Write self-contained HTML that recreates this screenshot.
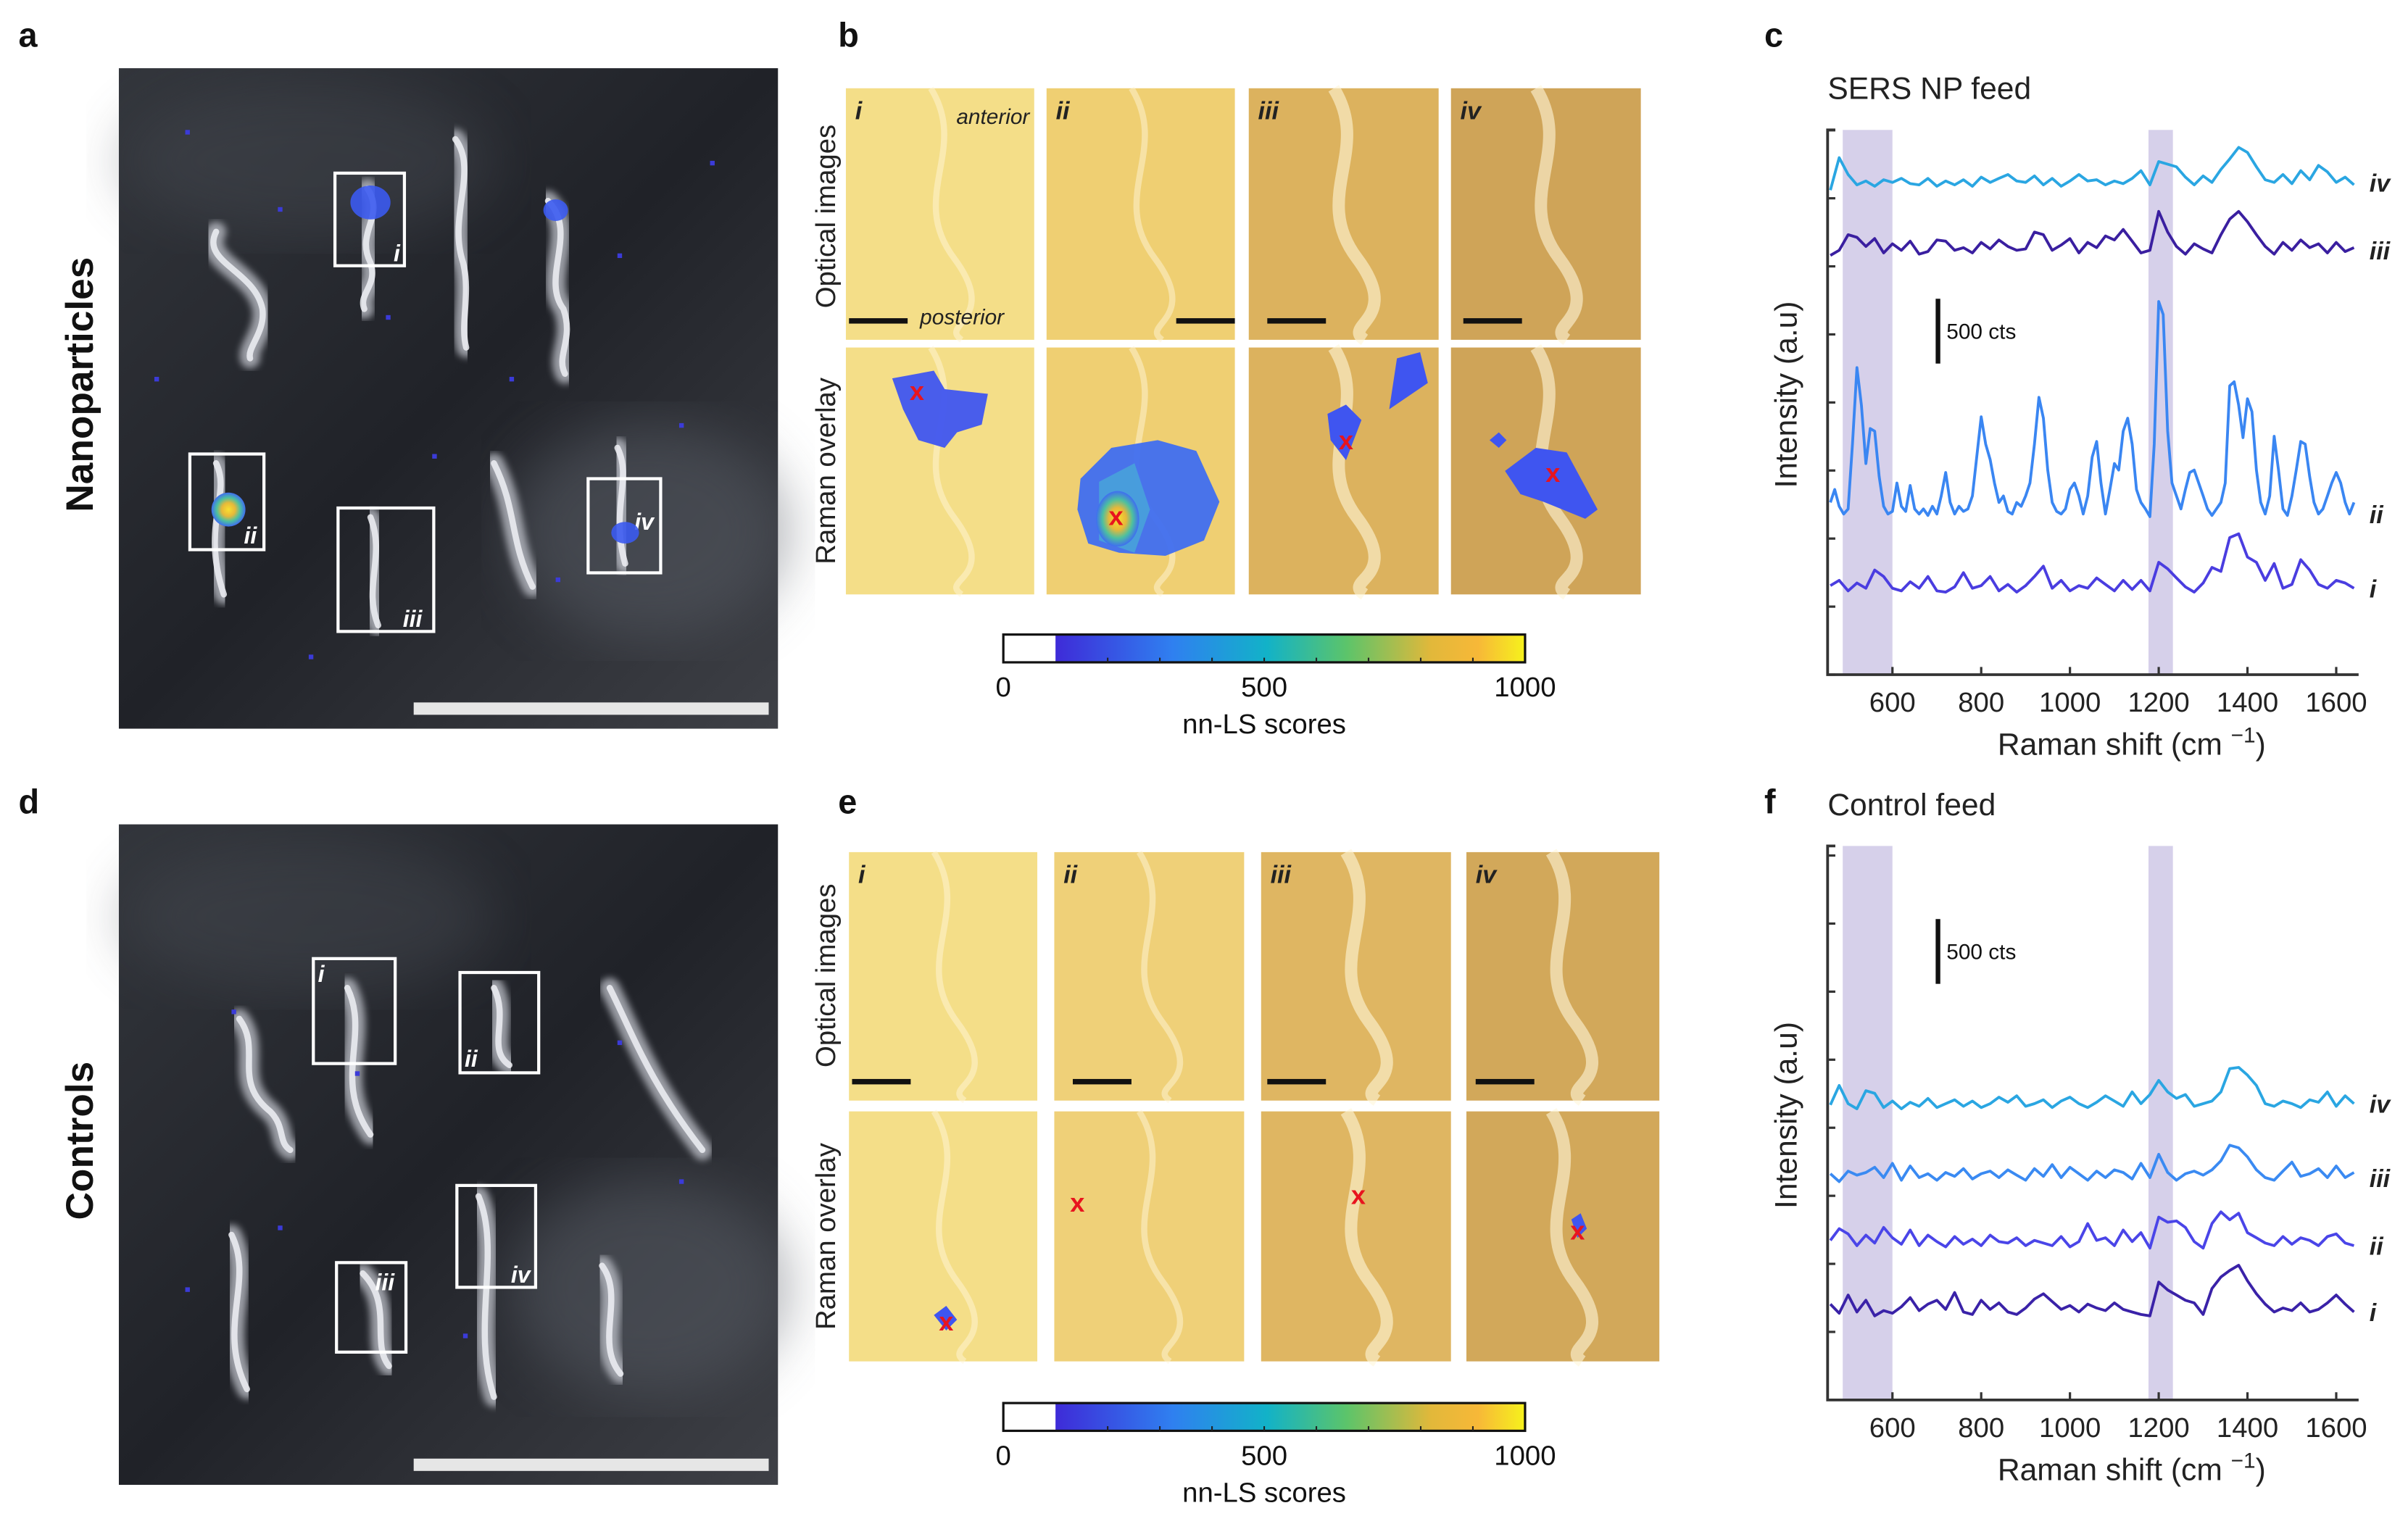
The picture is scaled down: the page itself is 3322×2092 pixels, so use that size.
<!DOCTYPE html>
<html><head><meta charset="utf-8">
<style>
html,body{margin:0;padding:0;background:#fff;}
svg{display:block;font-family:"Liberation Sans",Arial,sans-serif;}
</style></head>
<body>
<svg id="fig" width="3322" height="2092" viewBox="0 0 1560 982" xmlns="http://www.w3.org/2000/svg">
<defs>
<linearGradient id="parula" x1="0" x2="1" y1="0" y2="0">
<stop offset="0" stop-color="#3e2bd8"/><stop offset="0.25" stop-color="#2f80f0"/>
<stop offset="0.45" stop-color="#12b2c8"/><stop offset="0.62" stop-color="#5cc46a"/>
<stop offset="0.8" stop-color="#e2b83a"/><stop offset="0.9" stop-color="#f7b838"/><stop offset="1" stop-color="#f6f21c"/>
</linearGradient>
<radialGradient id="hot" cx="0.5" cy="0.5" r="0.5">
<stop offset="0" stop-color="#f8e030"/><stop offset="0.4" stop-color="#e6b83a"/><stop offset="0.7" stop-color="#4cc0a0"/><stop offset="1" stop-color="#3f6ef0"/>
</radialGradient>
<linearGradient id="dark" x1="0" y1="0" x2="1" y2="1">
<stop offset="0" stop-color="#33363c"/><stop offset="0.5" stop-color="#202228"/><stop offset="1" stop-color="#3e4046"/>
</linearGradient>
<filter id="blur1"><feGaussianBlur stdDeviation="2.2"/></filter>
<filter id="blur6"><feGaussianBlur stdDeviation="18"/></filter>
</defs>
<g id="root"></g>
</svg>
<script>
// ---------- data ----------
const xTickLabels = [600, 800, 1000, 1200, 1400, 1600];
const bandRanges = [[488, 600], [1177, 1232]];
const colorbarTicks = [0, 500, 1000];
const traceLabels = ["iv", "iii", "ii", "i"];
const cOffsets = [3738, 3214, 1179, 607];
const fOffsets = [2226, 1655, 1131, 619];
const wnStart = 460;
const c_iv = [0,250,120,40,70,30,80,60,90,50,
 40,90,30,70,40,80,30,100,60,90,
 120,70,60,110,40,90,30,70,120,70,
 80,40,70,50,90,150,40,220,200,180,
 100,40,110,60,160,240,330,290,180,80,
 60,120,50,150,80,190,140,60,100,40];
const c_iii = [20,60,180,160,90,150,40,110,60,130,
 30,50,140,130,60,80,40,120,70,140,
 90,60,70,200,180,60,100,150,40,120,
 80,170,140,220,130,40,60,360,200,90,
 30,110,70,40,180,300,360,280,180,90,
 30,120,60,140,80,110,40,120,50,80];
const c_ii = [150,250,120,60,100,600,1190,900,450,720,700,350,120,60,80,300,120,80,280,100,60,100,50,120,60,200,380,150,60,120,80,100,200,500,810,600,480,300,150,200,80,60,150,120,200,300,600,960,800,400,150,80,60,100,250,300,200,60,200,500,620,300,60,250,450,400,700,800,600,250,150,100,40,600,1700,1600,700,300,200,100,250,380,400,300,200,100,50,100,150,300,1050,1080,900,650,950,850,400,150,60,200,660,400,100,50,200,400,620,600,350,150,60,100,200,300,380,300,150,60,150];
const c_i = [80,120,40,100,60,200,150,60,40,110,
 60,150,40,30,70,180,60,80,150,40,
 90,30,80,150,230,60,120,40,80,60,
 140,90,40,120,50,120,40,260,210,140,
 70,30,100,220,190,450,480,300,260,120,
 250,60,90,280,200,90,60,120,100,60];
const f_iv = [50,200,60,20,160,140,30,80,20,70,
 40,100,30,60,90,40,80,30,60,110,
 70,120,40,60,90,30,80,110,60,30,
 70,120,80,40,150,60,130,240,150,100,
 130,40,60,80,150,330,340,280,200,60,
 40,80,60,30,90,70,150,40,120,60];
const f_iii = [90,30,110,80,100,140,60,170,40,150,
 60,90,40,100,70,130,50,90,110,60,
 120,80,40,130,70,160,60,140,90,40,
 110,60,120,100,50,170,60,240,100,40,
 90,110,80,120,190,310,290,220,120,60,
 40,110,180,70,90,130,60,150,60,100];
const f_ii = [100,190,150,60,140,80,200,120,70,180,
 60,140,90,50,130,70,110,60,140,90,
 80,120,60,100,80,60,130,50,90,230,
 100,120,60,180,90,160,40,280,240,250,
 200,90,40,230,320,260,310,160,120,80,
 60,130,70,120,100,60,130,150,80,60];
const f_i = [120,50,190,60,150,30,70,50,100,170,
 70,120,150,80,210,60,40,150,80,130,
 60,40,90,160,200,140,80,110,60,120,
 90,70,130,80,60,40,30,290,230,190,
 150,130,40,240,330,380,420,300,200,120,
 60,90,70,130,60,80,130,190,120,60];
const cSeries = [c_iv, c_iii, c_ii, c_i];
const fSeries = [f_iv, f_iii, f_ii, f_i];
const cSteps = [20, 20, 10, 20];
const fSteps = [20, 20, 20, 20];
const traceColorsC = ["#2aa6e2", "#3a1fa0", "#3a86f2", "#4a3de0"];
const traceColorsF = ["#2aa6e2", "#3a8af2", "#4a45e8", "#3a22a8"];

// ---------- helpers ----------
const NS = "http://www.w3.org/2000/svg";
const root = document.getElementById("root");
function mk(tag, attrs, parent, text) {
  const e = document.createElementNS(NS, tag);
  for (const k in attrs) e.setAttribute(k, attrs[k]);
  if (text !== undefined) e.textContent = text;
  (parent || root).appendChild(e);
  return e;
}

[["a",12,30],["b",543,30],["c",1143,30],["d",12,527],["e",543,527],["f",1143,527]].forEach(p=>{
  const t = mk("text",{x:p[1],y:p[2],"font-size":22,"font-weight":"bold",fill:"#111"},root,p[0]);
  
  
});

// ---------- photo panels a / d ----------
function photo(y0, label, boxes, worms, dots, key) {
  const g = mk("g", {});
  
  
  mk("rect",{x:77,y:y0,width:427,height:428,fill:"url(#dark)"},g);
  mk("ellipse",{cx:420,cy:y0+300,rx:90,ry:70,fill:"#5a5e68",opacity:0.5,filter:"url(#blur6)"},g);
  mk("ellipse",{cx:200,cy:y0+60,rx:120,ry:50,fill:"#4a4d55",opacity:0.4,filter:"url(#blur6)"},g);
  worms.forEach(w=>{
    mk("path",{d:w,fill:"none",stroke:"#b9bcc4","stroke-width":13,"stroke-linecap":"round",filter:"url(#blur1)",opacity:0.8},g);
    mk("path",{d:w,fill:"none",stroke:"#eef0f4","stroke-width":4,"stroke-linecap":"round",opacity:0.85},g);
  });
  dots.forEach(d=>mk("rect",{x:d[0],y:y0+d[1],width:3,height:3,fill:"#3b3bd8"},g));
  boxes.forEach(b=>{
    const r = mk("rect",{x:b[0],y:b[1],width:b[2],height:b[3],fill:"none",stroke:"#fff","stroke-width":2},g);
    
    
    mk("text",{x:b[0]+b[5],y:b[1]+b[6],"font-size":15,"font-style":"italic","font-weight":"bold",fill:"#fff"},g,b[4]);
  });
  const sb = mk("rect",{x:268,y:y0+411,width:230,height:8,fill:"#e6e6e6"},g);
  
  
  const t = mk("text",{x:0,y:0,"font-size":25,"font-weight":"bold",fill:"#111","text-anchor":"middle",transform:`translate(60,${y0+205}) rotate(-90)`},root,label);
  
  
}
photo(44,"Nanoparticles",
 [[217,112,45,60,"i",38,57],[123,294,48,62,"ii",35,58],[219,329,62,80,"iii",42,77],[381,310,47,61,"iv",30,33]],
 ["M140,150 C130,170 165,175 170,200 C172,215 160,225 162,232","M238,122 C250,140 230,150 240,170 C245,185 232,190 236,200","M295,90 C310,110 290,140 300,170 C305,190 298,210 302,225","M355,130 C375,150 350,180 365,200 C372,220 360,230 366,242","M140,300 C150,320 130,340 145,385","M240,335 C250,360 235,380 245,405","M320,300 C335,330 330,350 345,380","M400,290 C410,310 395,330 405,365"],
 [[120,40],[180,90],[250,160],[330,200],[400,120],[150,280],[280,250],[440,230],[360,330],[200,380],[460,60],[100,200]],"a");
mk("ellipse",{cx:240,cy:131,rx:13,ry:11,fill:"#3b5af0",opacity:0.9});
mk("ellipse",{cx:360,cy:136,rx:8,ry:7,fill:"#3b5af0",opacity:0.9});
mk("circle",{cx:148,cy:330,r:11,fill:"url(#hot)"});
mk("ellipse",{cx:405,cy:345,rx:9,ry:7,fill:"#3b5af0",opacity:0.9});
photo(534,"Controls",
 [[203,621,53,68,"i",3,15],[298,630,51,65,"ii",3,61],[218,818,45,58,"iii",25,18],[296,768,51,66,"iv",35,63]],
 ["M155,660 C170,680 150,700 175,720 C185,730 180,740 188,745","M225,640 C240,670 215,700 240,735","M395,640 C410,670 420,700 455,745","M150,800 C165,830 140,860 160,900","M235,825 C255,845 240,870 252,885","M310,775 C325,810 305,860 320,905","M390,820 C405,840 385,870 402,890","M320,640 C330,660 315,680 330,690"],
 [[150,120],[230,160],[400,140],[120,300],[300,330],[440,230],[180,260]],"d");

// ---------- tiles b / e ----------
function tiles(cols, rows, colours, key, scaleBars) {
  cols.forEach((c, ci) => {
    rows.forEach((r, ri) => {
      const g = mk("g", {});
      
      
      mk("rect",{x:c[0],y:r[0],width:c[1]-c[0],height:r[1]-r[0],fill:colours[ci]},g);
      mk("path",{d:`M${c[0]+55},${r[0]} C${c[0]+80},${r[0]+40} ${c[0]+40},${r[0]+70} ${c[0]+70},${r[0]+110} S${c[0]+60},${r[1]-10} ${c[0]+75},${r[1]}`,fill:"none",stroke:"#fff6d8","stroke-width":ci<2?4:8,opacity:ci<2?0.5:0.6},g);
      if (ri === 0) {
        mk("text",{x:c[0]+6,y:r[0]+20,"font-size":16,"font-style":"italic","font-weight":"bold",fill:"#222"},g,["i","ii","iii","iv"][ci]);
        const sb = scaleBars[ci];
        mk("rect",{x:c[0]+sb,y:r[1]-14,width:38,height:3.5,fill:"#111"},g);
      }
    });
  });
}
const bCols = [[548,670],[678,800],[809,932],[940,1063]];
const bRows = [[57,220],[225,385]];
tiles(bCols,bRows,["#f4de88","#efcf72","#dcb25e","#cfa458"],"b",[2,84,12,8]);
mk("text",{x:667,y:80,"font-size":14,"font-style":"italic",fill:"#222","text-anchor":"end"},root,"anterior");
mk("text",{x:596,y:210,"font-size":14,"font-style":"italic",fill:"#222"},root,"posterior");
const eCols = [[550,672],[683,806],[817,940],[950,1075]];
const eRows = [[552,713],[720,882]];
tiles(eCols,eRows,["#f4de88","#efd078","#dfb662","#d2a85a"],"e",[2,12,4,6]);
[["Optical images",140],["Raman overlay",305],["Optical images",632],["Raman overlay",801]].forEach((r,i)=>{
  const t = mk("text",{x:0,y:0,"font-size":18,fill:"#222","text-anchor":"middle",transform:`translate(541,${r[1]}) rotate(-90)`},root,r[0]);
  
  
});
mk("polygon",{points:"578,245 605,240 612,252 640,255 636,275 620,280 612,290 595,285 585,265",fill:"#3f55f0",opacity:0.95});
mk("polygon",{points:"700,310 720,290 750,285 775,292 790,325 780,350 755,360 725,358 705,352 698,330",fill:"#3f6ef0",opacity:0.95});
mk("polygon",{points:"712,312 735,300 745,330 735,358 712,350",fill:"#48a8d8",opacity:0.8});
mk("ellipse",{cx:724,cy:336,rx:14,ry:18,fill:"url(#hot)"});
mk("polygon",{points:"860,268 872,262 882,272 872,298 862,285",fill:"#3f55f0"});
mk("polygon",{points:"905,232 920,228 925,248 900,265",fill:"#3f55f0"});
mk("polygon",{points:"975,305 995,290 1015,293 1035,330 1027,336 1000,325 985,320",fill:"#3f55f0"});
mk("polygon",{points:"965,285 971,280 976,285 971,290",fill:"#3f55f0"});
mk("polygon",{points:"605,852 613,846 620,855 613,862",fill:"#3f55f0"});
mk("polygon",{points:"1018,790 1024,786 1028,796 1022,802",fill:"#3f55f0"});
[[594,253],[723,334],[872,285],[1006,306],[613,856],[698,779],[880,774],[1022,797]].forEach((p,i)=>{
  const t = mk("text",{x:p[0],y:p[1]+6,"font-size":17,"font-weight":"bold",fill:"#e8141e","text-anchor":"middle"},root,"x");
  
  
});

// ---------- colorbars ----------
function colorbar(y0, key) {
  const x0 = 650, x1 = 988;
  const cx = v => x0 + (v - colorbarTicks[0]) / (colorbarTicks[2] - colorbarTicks[0]) * (x1 - x0);
  const g = mk("g", {});
  
  
  mk("rect",{x:x0,y:y0,width:cx(100)-x0,height:18,fill:"#fff"},g);
  mk("rect",{x:cx(100),y:y0,width:x1-cx(100),height:18,fill:"url(#parula)"},g);
  mk("rect",{x:x0,y:y0,width:x1-x0,height:18,fill:"none",stroke:"#111","stroke-width":1.5},g);
  for (let v = 200; v < 1000; v += 100) mk("line",{x1:cx(v),x2:cx(v),y1:y0+18,y2:y0+15,stroke:"#222","stroke-width":1},g);
  colorbarTicks.forEach(v=>mk("text",{x:cx(v),y:y0+40,"font-size":18,fill:"#111","text-anchor":"middle"},g,String(v)));
  mk("text",{x:cx(500),y:y0+64,"font-size":18,fill:"#111","text-anchor":"middle"},g,"nn-LS scores");
}
colorbar(411,"b");
colorbar(909,"e");

// ---------- spectra ----------
function spectra(key, top, bottom, title, series, steps, offsets, colours, barY) {
  const left = 1184, right = 1528;
  const xS = w => 1226 + (w - 600) * 0.2875;
  const yS = v => bottom - v * 0.084;
  const g = mk("g", {});
  
  
  const tt = mk("text",{x:1184,y:top-20,"font-size":20,fill:"#222"},g,title);
  
  
  bandRanges.forEach(b=>{
    const r = mk("rect",{x:xS(b[0]),y:top,width:xS(b[1])-xS(b[0]),height:bottom-top,fill:"#d6d0ea"},g);
    
    
  });
  mk("path",{d:`M${left+5},${top} H${left} V${bottom} H${right}`,fill:"none",stroke:"#333","stroke-width":1.8},g);
  for (let v = 0; yS(v) >= top - 1; v += 525) mk("line",{x1:left,x2:left+5,y1:yS(v),y2:yS(v),stroke:"#333","stroke-width":1.5},g);
  xTickLabels.forEach(w=>{
    mk("line",{x1:xS(w),x2:xS(w),y1:bottom,y2:bottom-5,stroke:"#333","stroke-width":1.5},g);
    mk("text",{x:xS(w),y:bottom+24,"font-size":18,fill:"#222","text-anchor":"middle"},g,String(w));
  });
  const xl = mk("text",{x:(left+right)/2+25,y:bottom+52,"font-size":20,fill:"#222","text-anchor":"middle"},g);
  
  
  xl.innerHTML = 'Raman shift (cm <tspan dy="-8" font-size="14">−1</tspan><tspan dy="8">)</tspan>';
  const yl = mk("text",{x:0,y:0,"font-size":20,fill:"#222","text-anchor":"middle",transform:`translate(1164,${(top+bottom)/2-5}) rotate(-90)`},g,"Intensity (a.u)");
  
  
  mk("rect",{x:1254,y:yS(barY + 500),width:3,height:500*0.084,fill:"#111"},g);
  mk("text",{x:1261,y:yS(barY + 250)+5,"font-size":14,fill:"#111"},g,"500 cts");
  series.forEach((arr, si) => {
    let d = "";
    arr.forEach((v, i) => {
      const w = wnStart + i * steps[si];
      d += (i ? "L" : "M") + xS(w).toFixed(1) + "," + yS(offsets[si] + v).toFixed(1);
    });
    const p = mk("path",{d:d,fill:"none",stroke:colours[si],"stroke-width":1.8,"stroke-linejoin":"round"},g);
    
    
    const t = mk("text",{x:1535,y:yS(offsets[si] + 60)+6,"font-size":16,"font-style":"italic","font-weight":"bold",fill:"#222"},g,traceLabels[si]);
    
    
  });
}
spectra("c", 84, 437, "SERS NP feed", cSeries, cSteps, cOffsets, traceColorsC, 2400);
spectra("f", 548, 907, "Control feed", fSeries, fSteps, fOffsets, traceColorsF, 3210);
</script>
</body></html>
